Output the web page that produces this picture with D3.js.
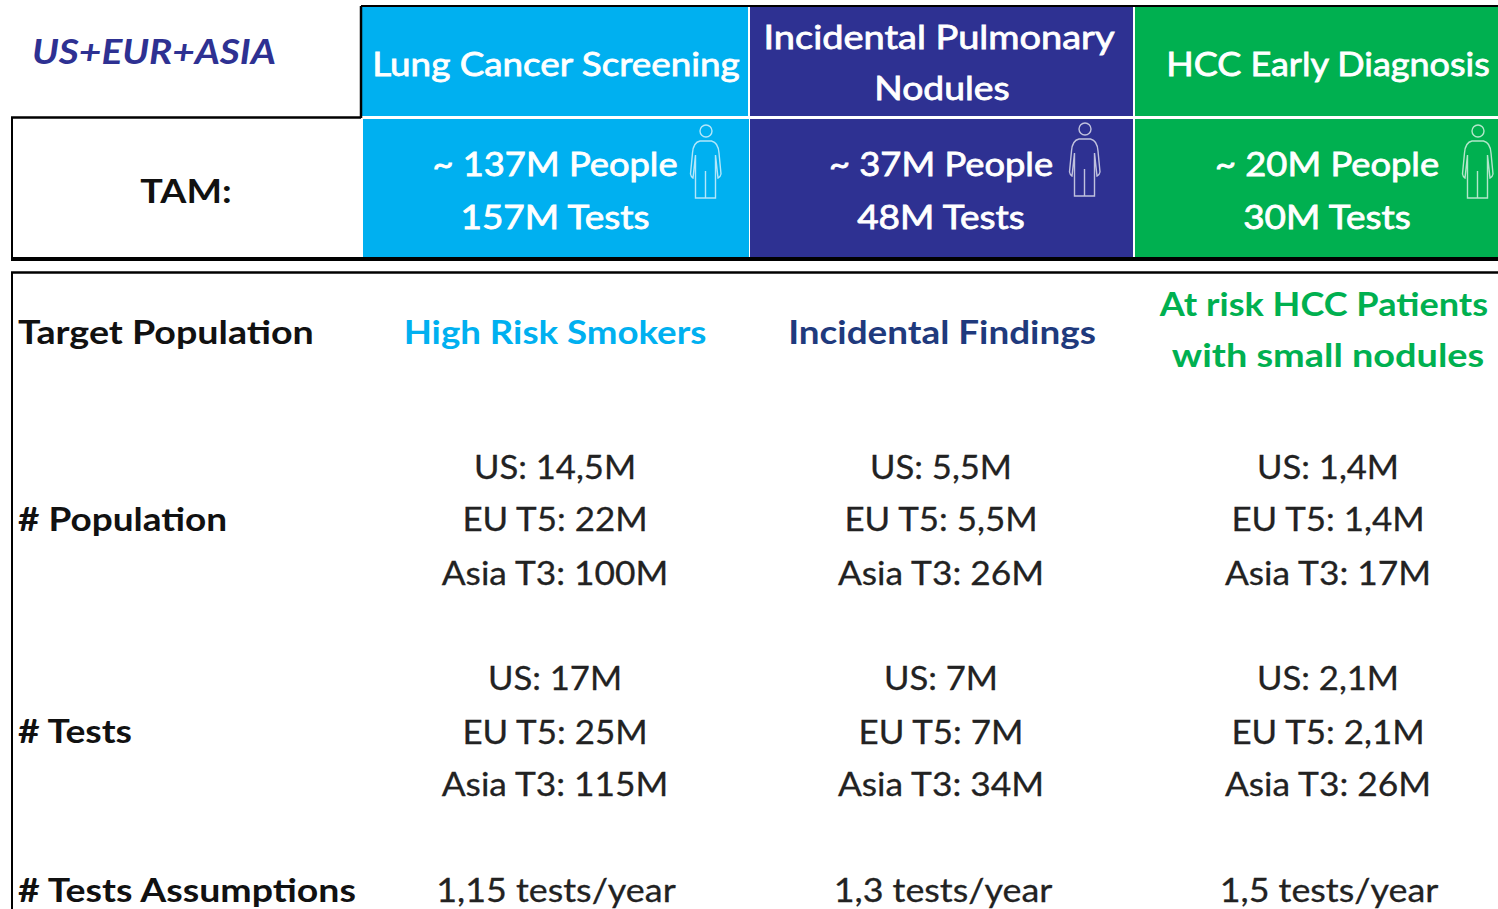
<!DOCTYPE html>
<html>
<head>
<meta charset="utf-8">
<script src="https://d3js.org/d3.v7.min.js"></script>
<style>
  html, body { margin: 0; padding: 0; background: #fff; overflow: hidden; }
  text { font-family: Lato, "Open Sans", sans-serif; }
</style>
</head>
<body>
<div class="container"></div>
<script>
const indications = ['Lung Cancer Screening', 'Incidental Pulmonary Nodules', 'HCC Early Diagnosis'];
const indication_colors = ['#00b0f0', '#2e3192', '#00b050'];
const target_colors = ['#00b0f0', '#1f3a7d', '#00b050'];
const people = ['~ 137M People', '~ 37M People', '~ 20M People'];
const tests = ['157M Tests', '48M Tests', '30M Tests'];
const target_population = [['High Risk Smokers'], ['Incidental Findings'], ['At risk HCC Patients', 'with small nodules']];
const population = [
  ['US: 14,5M', 'EU T5: 22M', 'Asia T3: 100M'],
  ['US: 5,5M', 'EU T5: 5,5M', 'Asia T3: 26M'],
  ['US: 1,4M', 'EU T5: 1,4M', 'Asia T3: 17M']
];
const test_counts = [
  ['US: 17M', 'EU T5: 25M', 'Asia T3: 115M'],
  ['US: 7M', 'EU T5: 7M', 'Asia T3: 34M'],
  ['US: 2,1M', 'EU T5: 2,1M', 'Asia T3: 26M']
];
const assumptions = ['1,15 tests/year', '1,3 tests/year', '1,5 tests/year'];
const row_labels = ['Target Population', '# Population', '# Tests', '# Tests Assumptions'];

const width = 1498, height = 909;
const svg = d3.select('.container').append('svg')
  .attr('width', width).attr('height', height)
  .style('display', 'block').style('background', '#fff');

const center = i => [555, 941, 1328][i];

// fit widens the glyphs, Lato runs narrower than the original Calibri at this height
function label(txt, cx, y, size, fill, weight, anchor, fit, heavy) {
  const t = svg.append('text').text(txt)
    .attr('x', cx).attr('y', y)
    .attr('font-size', size).attr('fill', fill)
    .attr('font-weight', weight || 400)
    .attr('text-anchor', anchor || 'middle');
  if (fit) {
    t.attr('textLength', t.node().getComputedTextLength() * fit)
      .attr('lengthAdjust', 'spacingAndGlyphs');
  }
  if (heavy) {
    t.attr('stroke', fill).attr('stroke-width', heavy);
  }
  return t;
}

// coloured header blocks
indications.forEach((d, i) => {
  const x0 = [362, 750, 1135][i], x1 = [748, 1133, 1498][i];
  svg.append('rect').attr('x', x0).attr('y', 7).attr('width', x1 - x0).attr('height', 109).attr('fill', indication_colors[i]);
  svg.append('rect').attr('x', x0 + (i === 0 ? 1 : 0)).attr('y', 119).attr('width', x1 - x0).attr('height', 138).attr('fill', indication_colors[i]);
});

// black frame lines
const frame = [
  [361, 6, 1498, 6, 2], [361, 6, 361, 118, 2.5], [11, 117.5, 361, 117.5, 2.5],
  [12, 117, 12, 258, 2], [11, 259, 1498, 259, 4],
  [11, 272.5, 1498, 272.5, 2.5], [12, 272, 12, 909, 2]
];
svg.selectAll('line.frame').data(frame).enter().append('line')
  .attr('x1', d => d[0]).attr('y1', d => d[1]).attr('x2', d => d[2]).attr('y2', d => d[3])
  .attr('stroke', '#000').attr('stroke-width', d => d[4]);

label('US+EUR+ASIA', 32, 64, 34, '#2e3192', 700, 'start', 1.08).attr('font-style', 'italic');
label('TAM:', 186, 203, 33, '#111', 700, 'middle', 1.14);

// header text
label(indications[0], 556, 76, 33, '#fff', 400, 'middle', 1.115, 0.8);
label('Incidental Pulmonary', 939, 49, 33, '#fff', 400, 'middle', 1.15, 0.8);
label('Nodules', 942, 100, 33, '#fff', 400, 'middle', 1.13, 0.8);
label(indications[2], 1328, 76, 33, '#fff', 400, 'middle', 1.09, 0.8);

// TAM figures
const people_x = [555, 941, 1327];
people.forEach((d, i) => {
  label(d, people_x[i], 176, 33, '#fff', 400, 'middle', 1.10, 0.8);
  label(tests[i], people_x[i], 229, 33, '#fff', 400, 'middle', 1.12, 0.8);
});

// person icons
const person = 'M0,0 m-6,0 a6,6 0 1,0 12,0 a6,6 0 1,0 -12,0 ' +
  'M-6,10 C-11,11 -13,15 -13.5,22 L-15.5,43 Q-15,46 -13,47 L-10.5,24 L-10.5,67 L9.5,67 L9.5,24 L12,47 Q14.5,46 15,43 L13,22 C12.5,15 10,11 5.5,10 Z ' +
  'M-0.5,40 L-0.5,67';
[[706, 131], [1085, 129], [1478, 131]].forEach(p => {
  svg.append('path').attr('d', person)
    .attr('transform', `translate(${p[0]},${p[1]})`)
    .attr('fill', 'none').attr('stroke', '#fff').attr('stroke-opacity', 0.7).attr('stroke-width', 1.4);
});

// row labels
[[row_labels[0], 344, 1.176], [row_labels[1], 531, 1.155], [row_labels[2], 743, 1.165], [row_labels[3], 902, 1.17]].forEach(d => {
  label(d[0], 18, d[1], 32, '#111', 700, 'start', d[2]);
});

// table body
label(target_population[0][0], 555, 344, 33, target_colors[0], 700, 'middle', 1.11);
label(target_population[1][0], 942, 344, 33, target_colors[1], 700, 'middle', 1.116);
label(target_population[2][0], 1324, 316, 33, target_colors[2], 700, 'middle', 1.094);
label(target_population[2][1], 1328, 367, 33, target_colors[2], 700, 'middle', 1.147);

const pop_y = [479, 531, 585], test_y = [690, 744, 796];
const line_fit = [1.05, 1.058, 1.07];
d3.range(3).forEach(i => {
  population[i].forEach((d, j) => label(d, center(i), pop_y[j], 33, '#222', 400, 'middle', line_fit[j], 0.3));
  test_counts[i].forEach((d, j) => label(d, center(i), test_y[j], 33, '#222', 400, 'middle', line_fit[j], 0.3));
  label(assumptions[i], [556, 943, 1329][i], 902, 33, '#222', 400, 'middle', 1.087, 0.3);
});
</script>
</body>
</html>
